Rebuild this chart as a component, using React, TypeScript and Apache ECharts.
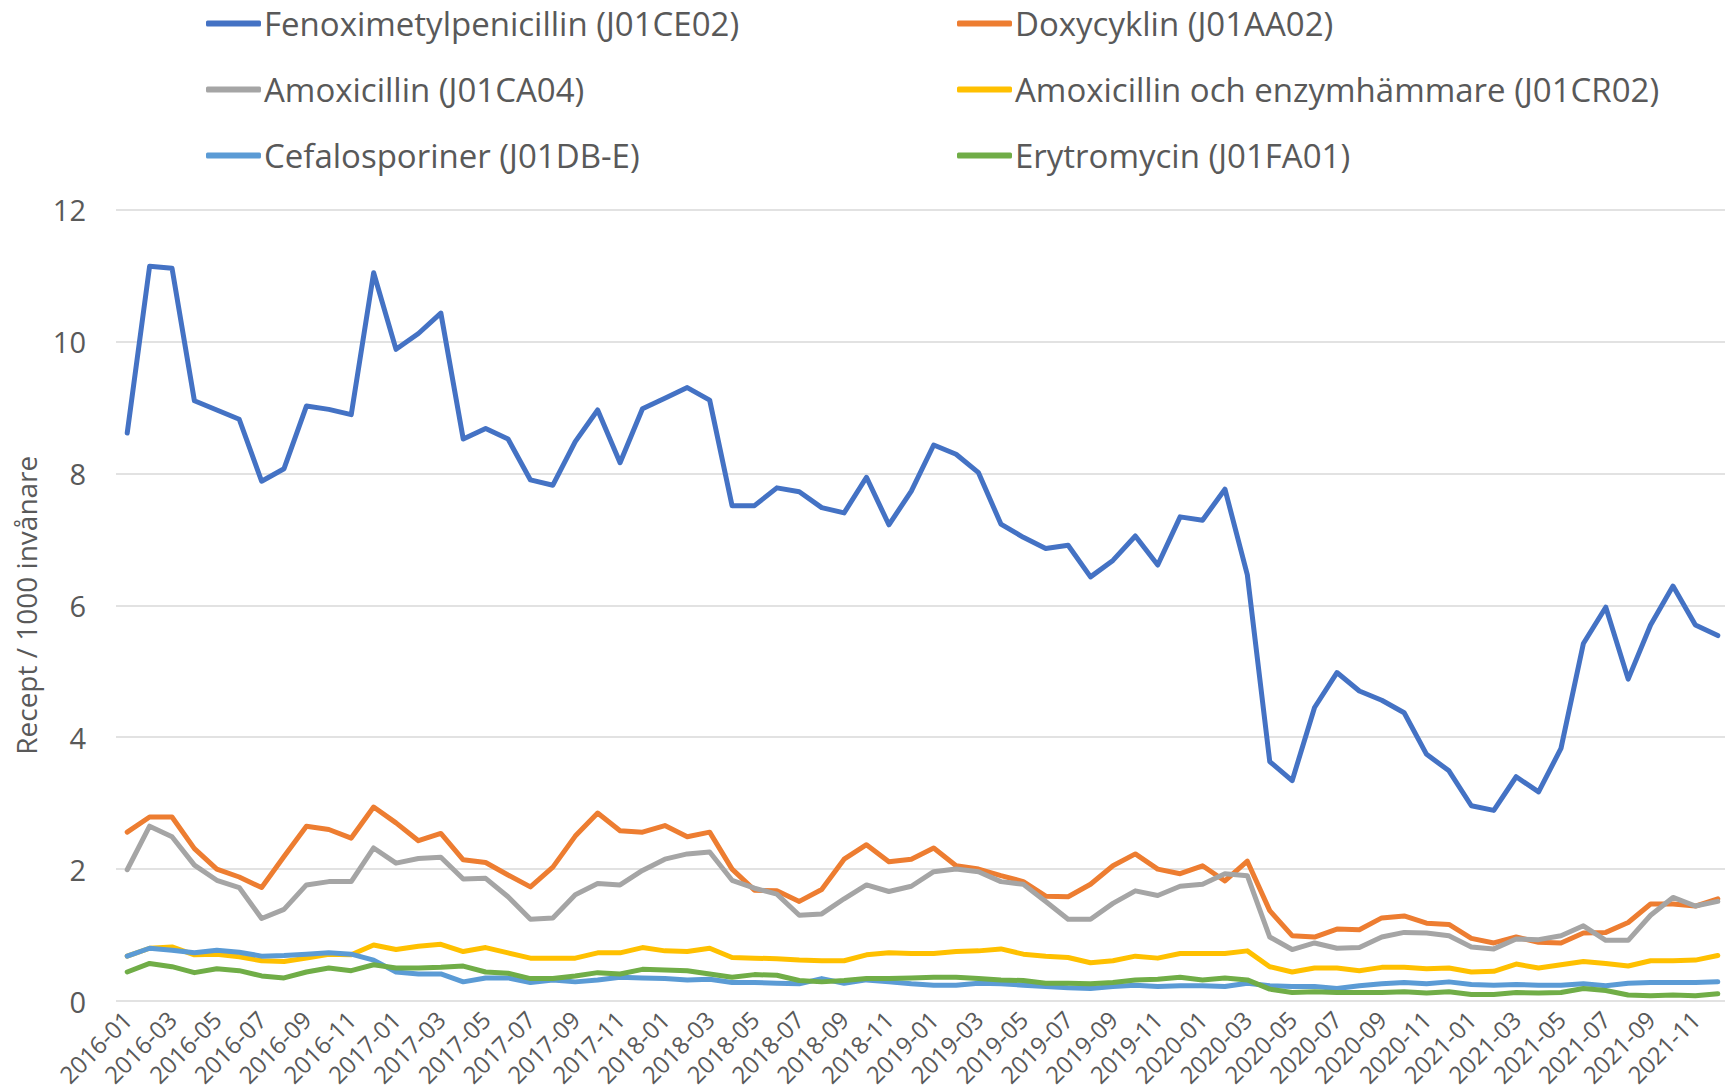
import React, { useEffect, useRef } from "react";
import * as echarts from "echarts";

const months: string[] = [];
for (let y = 2016; y <= 2021; y++) {
  for (let m = 1; m <= 12; m++) months.push(`${y}-${m < 10 ? "0" + m : m}`);
}

const seriesNames = [
  "Fenoximetylpenicillin (J01CE02)",
  "Doxycyklin (J01AA02)",
  "Amoxicillin (J01CA04)",
  "Amoxicillin och enzymhämmare (J01CR02)",
  "Cefalosporiner (J01DB-E)",
  "Erytromycin (J01FA01)",
];

const fenox = [
  8.61, 11.14, 11.11, 9.1, 8.96, 8.82, 7.88, 8.07, 9.02, 8.97, 8.89, 11.04, 9.88, 10.12, 10.43, 8.52, 8.68, 8.52, 7.9, 7.82, 8.48, 8.96,
  8.16, 8.98, 9.14, 9.3, 9.11, 7.51, 7.51, 7.78, 7.72, 7.48, 7.4, 7.94, 7.22, 7.73, 8.43, 8.29, 8.01, 7.23, 7.03, 6.86, 6.91, 6.43, 6.68, 7.05,
  6.61, 7.34, 7.29, 7.76, 6.46, 3.63, 3.34, 4.45, 4.98, 4.7, 4.56, 4.37, 3.74, 3.49, 2.96, 2.89, 3.4, 3.17, 3.83, 5.42, 5.97, 4.88, 5.7, 6.29, 5.7, 5.54,
];
const doxy = [
  2.56, 2.79, 2.79, 2.31, 2.0, 1.88, 1.72, 2.19, 2.65, 2.6, 2.47, 2.94, 2.7, 2.43, 2.54, 2.14, 2.1, 1.91, 1.73, 2.03, 2.5, 2.85,
  2.58, 2.56, 2.66, 2.49, 2.56, 2.0, 1.68, 1.67, 1.51, 1.69, 2.15, 2.37, 2.11, 2.15, 2.32, 2.05, 2.0, 1.9, 1.81, 1.59, 1.58, 1.77, 2.05, 2.23,
  2.0, 1.93, 2.05, 1.82, 2.12, 1.37, 0.99, 0.97, 1.09, 1.08, 1.26, 1.29, 1.18, 1.16, 0.95, 0.88, 0.97, 0.89, 0.88, 1.03, 1.04, 1.19, 1.47, 1.47, 1.44, 1.55,
];
const amox = [
  1.99, 2.65, 2.49, 2.06, 1.83, 1.72, 1.25, 1.39, 1.76, 1.81, 1.81, 2.32, 2.09, 2.16, 2.18, 1.85, 1.86, 1.58, 1.24, 1.26, 1.61, 1.78,
  1.76, 1.98, 2.15, 2.23, 2.26, 1.83, 1.71, 1.62, 1.3, 1.32, 1.55, 1.76, 1.66, 1.74, 1.96, 2.0, 1.96, 1.81, 1.77, 1.51, 1.24, 1.24, 1.48, 1.67,
  1.6, 1.74, 1.77, 1.93, 1.9, 0.97, 0.78, 0.88, 0.8, 0.81, 0.97, 1.04, 1.03, 0.99, 0.82, 0.79, 0.94, 0.93, 0.99, 1.14, 0.92, 0.92, 1.3, 1.57, 1.44, 1.51,
];
const amoxEnz = [
  0.68, 0.8, 0.82, 0.7, 0.71, 0.67, 0.61, 0.6, 0.65, 0.71, 0.7, 0.85, 0.78, 0.83, 0.86, 0.75, 0.81, 0.73, 0.65, 0.65, 0.65, 0.73,
  0.73, 0.81, 0.76, 0.75, 0.8, 0.66, 0.65, 0.64, 0.62, 0.61, 0.61, 0.7, 0.73, 0.72, 0.72, 0.75, 0.76, 0.79, 0.71, 0.68, 0.66, 0.58, 0.61, 0.68,
  0.65, 0.72, 0.72, 0.72, 0.76, 0.52, 0.44, 0.5, 0.5, 0.46, 0.51, 0.51, 0.49, 0.5, 0.44, 0.45, 0.56, 0.5, 0.55, 0.6, 0.57, 0.53, 0.61, 0.61, 0.62, 0.69,
];
const cefalo = [
  0.68, 0.8, 0.77, 0.73, 0.77, 0.74, 0.68, 0.69, 0.71, 0.73, 0.71, 0.62, 0.44, 0.41, 0.41, 0.29, 0.35, 0.35, 0.28, 0.32, 0.29, 0.32,
  0.36, 0.35, 0.34, 0.32, 0.33, 0.28, 0.28, 0.27, 0.26, 0.34, 0.27, 0.32, 0.29, 0.26, 0.24, 0.24, 0.27, 0.26, 0.24, 0.22, 0.2, 0.19, 0.22, 0.24,
  0.22, 0.23, 0.23, 0.22, 0.27, 0.23, 0.22, 0.22, 0.19, 0.23, 0.26, 0.28, 0.26, 0.29, 0.25, 0.24, 0.25, 0.24, 0.24, 0.26, 0.23, 0.27, 0.28, 0.28, 0.28, 0.29,
];
const erytro = [
  0.44, 0.57, 0.52, 0.43, 0.49, 0.46, 0.38, 0.35, 0.44, 0.5, 0.46, 0.55, 0.5, 0.5, 0.51, 0.53, 0.44, 0.42, 0.34, 0.34, 0.38, 0.43,
  0.41, 0.48, 0.47, 0.46, 0.41, 0.36, 0.4, 0.39, 0.31, 0.29, 0.31, 0.34, 0.34, 0.35, 0.36, 0.36, 0.34, 0.32, 0.31, 0.27, 0.27, 0.26, 0.28, 0.32,
  0.33, 0.36, 0.32, 0.35, 0.32, 0.18, 0.13, 0.14, 0.13, 0.13, 0.13, 0.14, 0.12, 0.14, 0.1, 0.1, 0.13, 0.12, 0.13, 0.19, 0.16, 0.09, 0.08, 0.09, 0.08, 0.11,
];

const yTicks = { min: 0, max: 12, interval: 2 };
const yTitle = "Recept / 1000 invånare";

const colors = ["#4472C4", "#ED7D31", "#A5A5A5", "#FFC000", "#5B9BD5", "#70AD47"];
const allData = [fenox, doxy, amox, amoxEnz, cefalo, erytro];

const FONT = "'Open Sans', sans-serif";
const TXT = "#595959";

export default function App() {
  const ref = useRef<HTMLDivElement>(null);
  useEffect(() => {
    if (!ref.current) return;
    const chart = echarts.init(ref.current, undefined, { renderer: "svg" });
    const legendCommon = {
      orient: "vertical" as const,
      top: 7,
      padding: 0,
      itemWidth: 55,
      itemHeight: 6,
      itemGap: 33,
      icon: "roundRect",
      textStyle: { fontFamily: FONT, fontSize: 33, color: TXT, lineHeight: 30, padding: [0, 0, 0, -2] },
    };
    chart.setOption({
      animation: false,
      textStyle: { fontFamily: FONT },
      legend: [
        { ...legendCommon, left: 206, data: [seriesNames[0], seriesNames[2], seriesNames[4]] },
        { ...legendCommon, left: 957, data: [seriesNames[1], seriesNames[3], seriesNames[5]] },
      ],
      grid: { left: 116, right: -4, top: 209.5, bottom: 90, outerBoundsMode: "none", containLabel: false },
      xAxis: {
        type: "category",
        data: months,
        boundaryGap: true,
        axisLine: { show: false },
        axisTick: { show: false },
        axisLabel: {
          interval: 1,
          rotate: 45,
          margin: 14,
          fontSize: 24,
          color: TXT,
          fontFamily: FONT,
        },
      },
      yAxis: {
        type: "value",
        min: yTicks.min,
        max: yTicks.max,
        interval: yTicks.interval,
        name: yTitle,
        nameLocation: "middle",
        nameRotate: 90,
        nameGap: 76,
        nameTextStyle: { fontSize: 28, color: TXT, fontFamily: FONT },
        axisLine: { show: false },
        axisTick: { show: false },
        axisLabel: { fontSize: 29, color: TXT, margin: 30, fontFamily: FONT },
        splitLine: { lineStyle: { color: "#D9D9D9", width: 1.5 } },
      },
      series: seriesNames.map((name, k) => ({
        name,
        type: "line",
        data: allData[k],
        symbol: "none",
        color: colors[k],
        lineStyle: { width: 5, color: colors[k], cap: "round", join: "round" },
      })),
    });
    return () => chart.dispose();
  }, []);
  return (
    <div
      ref={ref}
      style={{ position: "fixed", left: 0, top: 0, width: 1725, height: 1091, background: "#fff" }}
    />
  );
}
